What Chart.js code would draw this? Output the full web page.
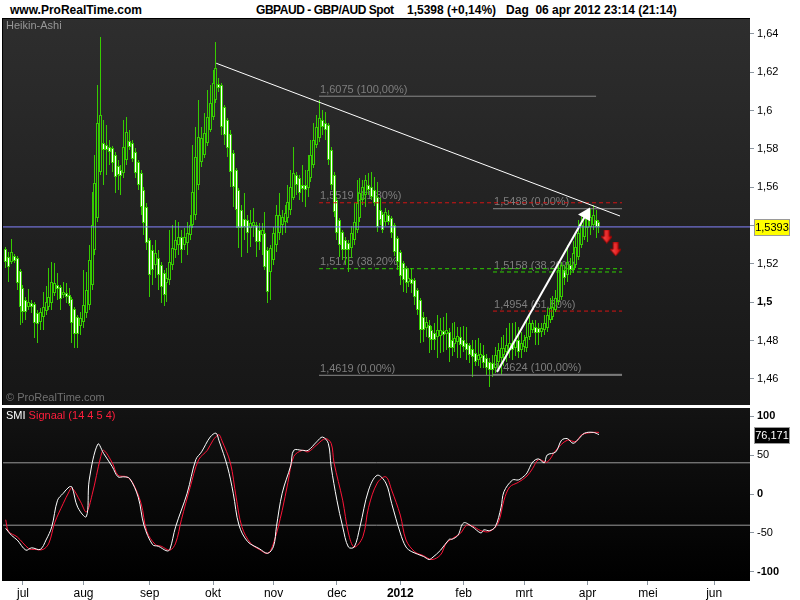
<!DOCTYPE html>
<html>
<head>
<meta charset="utf-8">
<script src="https://cdn.jsdelivr.net/npm/chart.js@4.4.1/dist/chart.umd.min.js"></script>
<style>
html, body { margin: 0; padding: 0; background: #fff; width: 800px; height: 600px; overflow: hidden; }
#hdr span { position: absolute; top: 3px; line-height: 14px; font: bold 12px 'Liberation Sans', Arial, sans-serif; color: #000; white-space: pre; }
#priceWrap { position: absolute; left: 0; top: 18px; width: 800px; height: 387px; }
#smiWrap { position: absolute; left: 0; top: 408px; width: 800px; height: 192px; }
</style>
</head>
<body>
<div id="hdr">
  <span style="left:10px">www.ProRealTime.com</span>
  <span style="left:256px; letter-spacing:-0.45px">GBPAUD - GBP/AUD Spot</span>
  <span style="left:407px">1,5398 (+0,14%)   Dag  06 apr 2012 23:14 (21:14)</span>
</div>
<div id="priceWrap"><canvas id="priceChart" width="800" height="387"></canvas></div>
<div id="smiWrap"><canvas id="smiChart" width="800" height="192"></canvas></div>

<script>
// Heikin-Ashi koersen GBPAUD, dagbalken (index 0 = 1 jul 2011)
const firstBar = -6;

const haOpen = [
    1.5278, 1.5236, 1.5211, 1.5242, 1.5231, 1.5163, 1.5074, 1.5012, 1.4975, 1.4996,
    1.4991, 1.4944, 1.4897, 1.4923, 1.4955, 1.4975, 1.4996, 1.5048, 1.5090, 1.5080,
    1.5038, 1.5048, 1.5038, 1.5017, 1.4965, 1.4923, 1.4876, 1.4897, 1.4944, 1.4986,
    1.5090, 1.5273, 1.5439, 1.5680, 1.5831, 1.5821, 1.5810, 1.5805, 1.5768, 1.5711,
    1.5690, 1.5674, 1.5742, 1.5842, 1.5831, 1.5784, 1.5732, 1.5674, 1.5586, 1.5497,
    1.5325, 1.5273, 1.5195, 1.5231, 1.5195, 1.5152, 1.5100, 1.5116, 1.5195, 1.5273,
    1.5299, 1.5340, 1.5299, 1.5309, 1.5351, 1.5403, 1.5455, 1.5612, 1.5732, 1.5768,
    1.5831, 1.5899, 1.5966, 1.6055, 1.6139, 1.6134, 1.6018, 1.5951, 1.5878, 1.5779,
    1.5690, 1.5586, 1.5481, 1.5434, 1.5429, 1.5387, 1.5398, 1.5403, 1.5377, 1.5351,
    1.5361, 1.5273, 1.5158, 1.5221, 1.5299, 1.5361, 1.5403, 1.5419, 1.5439, 1.5481,
    1.5544, 1.5664, 1.5648, 1.5612, 1.5612, 1.5596, 1.5648, 1.5716, 1.5821, 1.5857,
    1.5951, 1.5935, 1.5925, 1.5794, 1.5664, 1.5534, 1.5429, 1.5366, 1.5325, 1.5309,
    1.5283, 1.5325, 1.5377, 1.5439, 1.5534, 1.5560, 1.5612, 1.5601, 1.5586, 1.5549,
    1.5481, 1.5460, 1.5419, 1.5455, 1.5439, 1.5403, 1.5335, 1.5263, 1.5205, 1.5179,
    1.5106, 1.5121, 1.5116, 1.5064, 1.5012, 1.4923, 1.4865, 1.4881, 1.4855, 1.4839,
    1.4818, 1.4823, 1.4850, 1.4834, 1.4844, 1.4803, 1.4782, 1.4792, 1.4818, 1.4803,
    1.4787, 1.4777, 1.4756, 1.4735, 1.4699, 1.4709, 1.4725, 1.4709, 1.4688, 1.4683,
    1.4657, 1.4688, 1.4709, 1.4725, 1.4740, 1.4751, 1.4787, 1.4761, 1.4803, 1.4751,
    1.4766, 1.4761, 1.4818, 1.4855, 1.4871, 1.4865, 1.4844, 1.4855, 1.4865, 1.4907,
    1.4923, 1.4960, 1.5002, 1.5027, 1.5168, 1.5142, 1.5195, 1.5168, 1.5195, 1.5236,
    1.5299, 1.5340, 1.5387, 1.5392, 1.5403, 1.5429, 1.5419
];
const haClose = [
    1.5211, 1.5184, 1.5263, 1.5216, 1.5100, 1.4975, 1.4950, 1.4950, 1.5002, 1.4975,
    1.4891, 1.4886, 1.4950, 1.4975, 1.5002, 1.5027, 1.5106, 1.5100, 1.5069, 1.5017,
    1.5054, 1.5027, 1.4991, 1.4891, 1.4834, 1.4834, 1.4918, 1.4986, 1.5064, 1.5221,
    1.5403, 1.5622, 1.5935, 1.5977, 1.5794, 1.5794, 1.5784, 1.5726, 1.5653, 1.5664,
    1.5659, 1.5810, 1.5888, 1.5810, 1.5747, 1.5674, 1.5612, 1.5497, 1.5413, 1.5309,
    1.5142, 1.5168, 1.5257, 1.5142, 1.5080, 1.5038, 1.5126, 1.5211, 1.5283, 1.5325,
    1.5340, 1.5273, 1.5340, 1.5361, 1.5403, 1.5576, 1.5758, 1.5862, 1.5857, 1.5883,
    1.5966, 1.6039, 1.6144, 1.6222, 1.6118, 1.5914, 1.5873, 1.5805, 1.5680, 1.5601,
    1.5481, 1.5387, 1.5387, 1.5392, 1.5361, 1.5413, 1.5419, 1.5314, 1.5314, 1.5377,
    1.5184, 1.5054, 1.5283, 1.5361, 1.5455, 1.5455, 1.5445, 1.5466, 1.5523, 1.5601,
    1.5674, 1.5612, 1.5570, 1.5591, 1.5586, 1.5690, 1.5768, 1.5847, 1.5914, 1.5961,
    1.5914, 1.5899, 1.5742, 1.5612, 1.5471, 1.5361, 1.5299, 1.5273, 1.5273, 1.5273,
    1.5361, 1.5419, 1.5518, 1.5570, 1.5601, 1.5638, 1.5586, 1.5549, 1.5518, 1.5392,
    1.5429, 1.5377, 1.5471, 1.5419, 1.5361, 1.5263, 1.5211, 1.5137, 1.5116, 1.5100,
    1.5126, 1.5095, 1.5027, 1.4960, 1.4855, 1.4855, 1.4897, 1.4813, 1.4803, 1.4803,
    1.4855, 1.4855, 1.4829, 1.4855, 1.4761, 1.4761, 1.4813, 1.4823, 1.4777, 1.4766,
    1.4751, 1.4725, 1.4714, 1.4688, 1.4725, 1.4730, 1.4683, 1.4657, 1.4647, 1.4647,
    1.4725, 1.4751, 1.4761, 1.4761, 1.4777, 1.4787, 1.4751, 1.4803, 1.4740, 1.4787,
    1.4803, 1.4818, 1.4891, 1.4891, 1.4839, 1.4839, 1.4865, 1.4891, 1.4934, 1.4970,
    1.4975, 1.5022, 1.5168, 1.5195, 1.5126, 1.5211, 1.5168, 1.5257, 1.5288, 1.5361,
    1.5403, 1.5445, 1.5439, 1.5445, 1.5455, 1.5392, 1.5393
];
const haHigh = [
    1.5288, 1.5263, 1.5330, 1.5252, 1.5242, 1.5174, 1.5090, 1.5027, 1.5069, 1.5012,
    1.5002, 1.4960, 1.4970, 1.5054, 1.5085, 1.5179, 1.5211, 1.5205, 1.5152, 1.5090,
    1.5106, 1.5100, 1.5074, 1.5027, 1.4975, 1.4934, 1.4950, 1.5168, 1.5158, 1.5299,
    1.5576, 1.5768, 1.6134, 1.6384, 1.5951, 1.5925, 1.5847, 1.5815, 1.5784, 1.5742,
    1.5716, 1.5951, 1.5966, 1.5899, 1.5847, 1.5805, 1.5742, 1.5690, 1.5601, 1.5518,
    1.5335, 1.5299, 1.5325, 1.5273, 1.5211, 1.5168, 1.5179, 1.5377, 1.5403, 1.5429,
    1.5419, 1.5377, 1.5387, 1.5419, 1.5455, 1.5821, 1.5914, 1.6055, 1.5914, 1.5987,
    1.6107, 1.6134, 1.6212, 1.6358, 1.6170, 1.6144, 1.6029, 1.5961, 1.5899, 1.5794,
    1.5701, 1.5596, 1.5507, 1.5570, 1.5455, 1.5481, 1.5492, 1.5419, 1.5413, 1.5413,
    1.5471, 1.5288, 1.5299, 1.5392, 1.5507, 1.5570, 1.5481, 1.5507, 1.5612, 1.5690,
    1.5810, 1.5680, 1.5664, 1.5716, 1.5690, 1.5768, 1.5847, 1.5935, 1.5977, 1.6055,
    1.6003, 1.5992, 1.5935, 1.5810, 1.5680, 1.5549, 1.5439, 1.5377, 1.5340, 1.5325,
    1.5398, 1.5518, 1.5638, 1.5648, 1.5638, 1.5664, 1.5674, 1.5680, 1.5653, 1.5627,
    1.5544, 1.5471, 1.5492, 1.5481, 1.5450, 1.5413, 1.5346, 1.5273, 1.5216, 1.5189,
    1.5179, 1.5179, 1.5126, 1.5074, 1.5022, 1.4950, 1.4923, 1.4907, 1.4876, 1.4891,
    1.4934, 1.4918, 1.4923, 1.4944, 1.4865, 1.4891, 1.4897, 1.4871, 1.4871, 1.4876,
    1.4871, 1.4787, 1.4803, 1.4803, 1.4813, 1.4787, 1.4777, 1.4730, 1.4709, 1.4725,
    1.4766, 1.4787, 1.4818, 1.4829, 1.4865, 1.4891, 1.4891, 1.4897, 1.4871, 1.4844,
    1.4829, 1.4907, 1.4934, 1.4907, 1.4907, 1.4891, 1.4891, 1.4934, 1.4970, 1.5022,
    1.5033, 1.5064, 1.5195, 1.5211, 1.5195, 1.5299, 1.5231, 1.5320, 1.5351, 1.5429,
    1.5466, 1.5471, 1.5481, 1.5492, 1.5507, 1.5481, 1.5429
];
const haLow = [
    1.5179, 1.5106, 1.5200, 1.5205, 1.5064, 1.4881, 1.4891, 1.4907, 1.4960, 1.4944,
    1.4813, 1.4787, 1.4855, 1.4855, 1.4934, 1.4960, 1.4960, 1.5033, 1.5012, 1.4960,
    1.5022, 1.4996, 1.4981, 1.4787, 1.4761, 1.4761, 1.4829, 1.4865, 1.4918, 1.4960,
    1.5064, 1.5247, 1.5419, 1.5664, 1.5612, 1.5664, 1.5716, 1.5680, 1.5570, 1.5586,
    1.5560, 1.5648, 1.5716, 1.5794, 1.5732, 1.5648, 1.5586, 1.5455, 1.5351, 1.5273,
    1.5027, 1.5090, 1.5126, 1.5064, 1.4996, 1.4981, 1.5002, 1.5090, 1.5168, 1.5231,
    1.5247, 1.5205, 1.5273, 1.5247, 1.5325, 1.5387, 1.5429, 1.5586, 1.5706, 1.5753,
    1.5815, 1.5888, 1.5951, 1.6039, 1.6097, 1.5873, 1.5821, 1.5758, 1.5601, 1.5497,
    1.5387, 1.5283, 1.5236, 1.5325, 1.5257, 1.5288, 1.5340, 1.5236, 1.5273, 1.5247,
    1.5168, 1.4996, 1.5012, 1.5195, 1.5263, 1.5325, 1.5351, 1.5361, 1.5413, 1.5455,
    1.5534, 1.5560, 1.5534, 1.5523, 1.5497, 1.5549, 1.5627, 1.5701, 1.5805, 1.5836,
    1.5873, 1.5847, 1.5716, 1.5586, 1.5445, 1.5325, 1.5236, 1.5221, 1.5195, 1.5158,
    1.5231, 1.5299, 1.5361, 1.5419, 1.5507, 1.5497, 1.5560, 1.5534, 1.5502, 1.5366,
    1.5403, 1.5361, 1.5398, 1.5403, 1.5335, 1.5242, 1.5168, 1.5090, 1.5054, 1.5048,
    1.5080, 1.5048, 1.4986, 1.4934, 1.4787, 1.4792, 1.4818, 1.4735, 1.4751, 1.4751,
    1.4709, 1.4735, 1.4740, 1.4751, 1.4688, 1.4720, 1.4740, 1.4709, 1.4709, 1.4740,
    1.4699, 1.4683, 1.4610, 1.4668, 1.4668, 1.4657, 1.4657, 1.4621, 1.4557, 1.4610,
    1.4631, 1.4657, 1.4621, 1.4668, 1.4688, 1.4709, 1.4699, 1.4720, 1.4709, 1.4709,
    1.4740, 1.4740, 1.4803, 1.4839, 1.4777, 1.4777, 1.4818, 1.4829, 1.4844, 1.4891,
    1.4907, 1.4950, 1.4986, 1.5012, 1.5090, 1.5106, 1.5142, 1.5152, 1.5179, 1.5221,
    1.5283, 1.5325, 1.5314, 1.5351, 1.5377, 1.5335, 1.5361
];

// SMI (wit) en signaal (rood)
const smiIdx = [-6, -4, -2, 1, 3, 6, 8, 10, 12, 14, 16, 17, 19, 22, 23, 26, 28, 31, 33, 35,
    37, 40, 42, 45, 47, 50, 51, 53, 57, 60, 62, 65, 67, 68, 71, 73, 75, 78, 82, 85,
    87, 88, 90, 93, 94, 97, 99, 102, 104, 106, 107, 109, 111, 113, 115, 117, 120, 123, 126, 128,
    131, 133, 135, 139, 141, 142, 145, 148, 149, 151, 153, 156, 159, 160, 162, 164, 166, 167, 170, 172,
    174, 175, 177, 179, 181, 182, 185, 187, 189, 191, 193, 195, 198, 200];
const smiVal = [-44, -53, -59, -72, -69, -71, -59, -42, -8, 1, 9, 9, -17, -29, 18, 64, 52, 35, 22, 22,
    20, -4, -40, -65, -67, -73, -71, -42, 1, 44, 54, 73, 78, 69, 35, 1, -40, -61, -70, -76,
    -67, -42, 1, 37, 56, 56, 56, 67, 73, 65, 35, -8, -42, -68, -68, -42, 5, 24, 14, -12,
    -50, -68, -74, -80, -84, -82, -72, -58, -58, -53, -37, -42, -50, -46, -47, -42, -17, 3, 18, 18,
    23, 27, 41, 45, 40, 50, 54, 69, 71, 65, 71, 78, 79, 76.171];
const sigIdx = [-6, -5, -2, 2, 4, 7, 9, 11, 14, 16, 17, 20, 22, 24, 27, 28, 31, 33, 36, 38,
    41, 43, 46, 48, 51, 53, 55, 58, 61, 64, 66, 68, 69, 72, 74, 76, 79, 82, 85, 87,
    90, 92, 94, 97, 99, 102, 105, 107, 108, 111, 113, 115, 118, 120, 123, 126, 128, 131, 133, 136,
    139, 142, 145, 147, 150, 152, 154, 156, 159, 162, 165, 167, 169, 172, 175, 177, 179, 182, 185, 189,
    192, 194, 198, 200];
const sigVal = [-33, -48, -55, -70, -71, -71, -63, -37, -12, 3, 8, -10, -23, -1, 48, 56, 40, 24, 22, 15,
    -12, -48, -65, -67, -72, -63, -33, 8, 44, 56, 69, 76, 69, 40, -4, -42, -63, -71, -76, -63,
    -21, 15, 48, 56, 54, 63, 71, 65, 40, -8, -50, -68, -55, -17, 14, 22, 5, -27, -59, -74,
    -79, -84, -78, -63, -55, -50, -40, -41, -47, -48, -37, -8, 9, 15, 23, 33, 44, 41, 56, 69,
    67, 76, 79, 79];
const smiLevels = [40, -40];

// assen
const monthIdx = [0, 21, 44, 66, 87, 109, 131, 153, 174, 196, 217, 240];
const monthLbl = ['jul', 'aug', 'sep', 'okt', 'nov', 'dec', '2012', 'feb', 'mrt', 'apr', 'mei', 'jun'];
const priceTicks = [1.46, 1.48, 1.5, 1.52, 1.54, 1.56, 1.58, 1.6, 1.62, 1.64];
const smiTicks = [100, 50, 0, -50, -100];
const lastPrice = 1.5393;
const lastSmi = 76.171;

// tekenwerk: trendlijn, pijl, fibonacci
const trendX = [67.1, 207.3];
const trendY = [1.6247, 1.5450];
const arrowX = [164.6, 195.5];
const arrowY = [1.4636, 1.5458];
const downX = [202.7, 205.8];
const downY = [1.5343, 1.5276];

const fibAStart = 102.8;
const fibAEnd = [199, 208, 208, 208];
const fibAPrice = [1.6075, 1.5519, 1.5175, 1.4619];
const fibALabel = ['1,6075 (100,00%)', '1,5519 (61,80%)', '1,5175 (38,20%)', '1,4619 (0,00%)'];
const fibBStart = 163.2;
const fibBEnd = [208, 208, 208, 208];
const fibBPrice = [1.5488, 1.5158, 1.4954, 1.4624];
const fibBLabel = ['1,5488 (0,00%)', '1,5158 (38,20%)', '1,4954 (61,80%)', '1,4624 (100,00%)'];

const xMin = -6.94, xMax = 252.43;
const family = "'Liberation Sans', Arial, sans-serif";
const green = '#36cc00';
const GRAY = '#8a8a8a', RED = '#d41414', GRN = '#2fd000';

function fmt(v) {
    return String(+(+v).toFixed(4)).replace('.', ',');
}

function lineSet(xs, ys, color, width, dash) {
    return {
        type: 'line',
        data: xs.map((x, k) => ({ x: x, y: ys[k] })),
        borderColor: color,
        borderWidth: width,
        borderDash: dash || [],
        pointRadius: 0,
        fill: false,
        tension: 0,
        order: 0
    };
}

const bgPlugin = {
    id: 'bg',
    beforeDraw(chart, args, opts) {
        const { ctx, chartArea: a } = chart;
        ctx.save();
        ctx.fillStyle = '#fff';
        ctx.fillRect(0, 0, chart.width, chart.height);
        const g = ctx.createLinearGradient(0, a.top, 0, a.bottom);
        g.addColorStop(0, opts.top);
        g.addColorStop(1, opts.bottom);
        ctx.fillStyle = g;
        ctx.fillRect(a.left, a.top, a.right - a.left, a.bottom - a.top);
        ctx.fillStyle = '#000';
        ctx.fillRect(a.left - 1, a.top, 1, a.bottom - a.top);
        if (opts.topLine) ctx.fillRect(a.left - 1, a.top, a.right - a.left + 1, 1);
        ctx.restore();
    }
};

// balken op hele pixels zetten zodat de kaarsen scherp blijven
const snapBars = {
    id: 'snapBars',
    afterDatasetsUpdate(chart) {
        chart.data.datasets.forEach((ds, i) => {
            const meta = chart.getDatasetMeta(i);
            if (meta.type !== 'bar') return;
            meta.data.forEach(el => {
                el.x = Math.floor(el.x) + 0.5;
                el.y = Math.round(el.y);
                el.base = Math.round(el.base);
            });
        });
    }
};

function valueBox(ctx, yPix, text, fill, stroke, color) {
    const yc = Math.round(yPix);
    ctx.save();
    ctx.fillStyle = fill;
    ctx.fillRect(754, yc - 8, 35, 17);
    ctx.strokeStyle = stroke;
    ctx.lineWidth = 1;
    ctx.strokeRect(754.5, yc - 7.5, 35, 16);
    ctx.fillStyle = color;
    ctx.font = '11px ' + family;
    ctx.textBaseline = 'middle';
    ctx.textAlign = 'center';
    ctx.fillText(text, 772, yc + 1);
    ctx.restore();
}

const priceDeco = {
    id: 'priceDeco',
    beforeDatasetsDraw(chart) {
        const { ctx, scales: { x, y } } = chart;
        ctx.save();
        ctx.font = '11px ' + family;
        ctx.textBaseline = 'bottom';
        ctx.fillStyle = '#7e7e7e';
        fibAPrice.forEach((p, k) => ctx.fillText(fibALabel[k], x.getPixelForValue(fibAStart) + 1, y.getPixelForValue(p) - 1));
        fibBPrice.forEach((p, k) => ctx.fillText(fibBLabel[k], x.getPixelForValue(fibBStart) + 1, y.getPixelForValue(p) - 1));
        ctx.textBaseline = 'middle';
        ctx.fillStyle = '#979797';
        ctx.fillText('Heikin-Ashi', 6, 8);
        ctx.fillStyle = '#707070';
        ctx.fillText('\u00a9 ProRealTime.com', 6, 380);
        ctx.restore();
    },
    afterDraw(chart) {
        const y = chart.scales.y;
        valueBox(chart.ctx, y.getPixelForValue(lastPrice), fmt(lastPrice), '#ffff00', '#9a9a9a', '#000');
    }
};

const smiDeco = {
    id: 'smiDeco',
    afterDraw(chart) {
        const { ctx, scales: { y } } = chart;
        ctx.save();
        ctx.font = '11px ' + family;
        ctx.textBaseline = 'middle';
        ctx.fillStyle = '#ffffff';
        ctx.fillText('SMI', 6, 8);
        const w = ctx.measureText('SMI ').width;
        ctx.fillStyle = '#ff1e3c';
        ctx.fillText('Signaal (14 4 5 4)', 6 + w, 8);
        ctx.restore();
        valueBox(ctx, y.getPixelForValue(lastSmi), fmt(lastSmi), '#000', '#9a9a9a', '#fff');
    }
};

// Kaarsen
const bodyData = haOpen.map((o, k) => ({ x: firstBar + k, y: [o, haClose[k]] }));
const upWick = haOpen.map((o, k) => ({ x: firstBar + k, y: [Math.max(o, haClose[k]), haHigh[k]] }));
const loWick = haOpen.map((o, k) => ({ x: firstBar + k, y: [haLow[k], Math.min(o, haClose[k])] }));

const fibSets = [];
const fibAColor = [GRAY, RED, GRN, GRAY], fibADash = [[], [4, 3], [4, 3], []];
const fibBColor = [GRAY, GRN, RED, GRAY], fibBDash = [[], [4, 3], [4, 3], []];
fibAPrice.forEach((p, k) => fibSets.push(lineSet([fibAStart, fibAEnd[k]], [p, p], fibAColor[k], 1, fibADash[k])));
fibBPrice.forEach((p, k) => fibSets.push(lineSet([fibBStart, fibBEnd[k]], [p, p], fibBColor[k], 1, fibBDash[k])));

function makeDownArrow() {
    const c = document.createElement('canvas');
    c.width = 11; c.height = 14;
    const g = c.getContext('2d');
    const grad = g.createLinearGradient(0, 0, 11, 0);
    grad.addColorStop(0, '#ff5a5a');
    grad.addColorStop(1, '#d00000');
    g.fillStyle = grad;
    g.beginPath();
    g.moveTo(3, 0); g.lineTo(8, 0); g.lineTo(8, 7); g.lineTo(11, 7);
    g.lineTo(5.5, 13.5); g.lineTo(0, 7); g.lineTo(3, 7);
    g.closePath();
    g.fill();
    g.strokeStyle = '#a00000';
    g.lineWidth = 1;
    g.stroke();
    return c;
}

const arrowSet = lineSet(arrowX, arrowY, '#ffffff', 2);
arrowSet.pointRadius = [0, 6];
arrowSet.pointStyle = 'triangle';
arrowSet.pointBackgroundColor = '#ffffff';
arrowSet.pointBorderColor = '#ffffff';
arrowSet.pointRotation = (c) => {
    const { x, y } = c.chart.scales;
    const dx = x.getPixelForValue(arrowX[1]) - x.getPixelForValue(arrowX[0]);
    const dy = y.getPixelForValue(arrowY[0]) - y.getPixelForValue(arrowY[1]);
    return Math.atan2(dx, dy) * 180 / Math.PI;
};

const downSet = {
    type: 'line',
    data: downX.map((x, k) => ({ x: x, y: downY[k] })),
    showLine: false,
    pointStyle: makeDownArrow(),
    pointRadius: 6,
    order: 0
};

new Chart(document.getElementById('priceChart'), {
    type: 'bar',
    data: {
        datasets: [
            lineSet([xMin, xMax], [lastPrice, lastPrice], '#8484ff', 1),
            lineSet(trendX, trendY, '#ffffff', 1),
            arrowSet,
            downSet,
            ...fibSets,
            {
                label: 'body',
                data: bodyData,
                grouped: false,
                barThickness: 3,
                borderWidth: 1,
                borderSkipped: false,
                inflateAmount: 0,
                borderColor: green,
                backgroundColor: (c) => {
                    const k = c.dataIndex;
                    return haClose[k] < haOpen[k] ? '#ffffff' : 'rgba(0,0,0,0)';
                },
                order: 1
            },
            {
                label: 'upWick',
                data: upWick,
                grouped: false,
                barThickness: 1,
                borderWidth: 0,
                inflateAmount: 0,
                backgroundColor: green,
                order: 2
            },
            {
                label: 'loWick',
                data: loWick,
                grouped: false,
                barThickness: 1,
                borderWidth: 0,
                inflateAmount: 0,
                backgroundColor: green,
                order: 2
            }
        ]
    },
    options: {
        responsive: false,
        animation: false,
        devicePixelRatio: 1,
        layout: { autoPadding: false, padding: { left: 3, right: 0, top: 0, bottom: 0 } },
        plugins: {
            legend: { display: false },
            tooltip: { enabled: false },
            bg: { top: '#2e2e2e', bottom: '#161616', topLine: true }
        },
        scales: {
            x: { type: 'linear', display: false, min: xMin, max: xMax, offset: false, grid: { offset: false } },
            y: {
                type: 'linear',
                position: 'right',
                min: 1.4464,
                max: 1.6483,
                afterFit: (s) => { s.width = 50; s.paddingTop = 0; s.paddingBottom = 0; },
                afterBuildTicks: (s) => { s.ticks = priceTicks.map(v => ({ value: v })); },
                grid: { drawOnChartArea: false, drawTicks: true, tickLength: 4, color: '#8c96a0' },
                border: { display: false },
                ticks: {
                    color: '#000',
                    padding: 3,
                    font: (c) => ({ family: family, size: 11, weight: c.tick && c.tick.value === 1.5 ? 'bold' : 'normal' }),
                    callback: (v) => fmt(v)
                }
            }
        }
    },
    plugins: [bgPlugin, snapBars, priceDeco]
});

const levelSets = smiLevels.map(v => lineSet([xMin, xMax], [v, v], '#9a9a9a', 1));

new Chart(document.getElementById('smiChart'), {
    type: 'line',
    data: {
        datasets: [
            {
                label: 'SMI',
                data: smiIdx.map((x, k) => ({ x: x, y: smiVal[k] })),
                borderColor: '#ffffff',
                borderWidth: 1,
                pointRadius: 0,
                tension: 0.35
            },
            {
                label: 'Signaal',
                data: sigIdx.map((x, k) => ({ x: x, y: sigVal[k] })),
                borderColor: '#ff1438',
                borderWidth: 1,
                pointRadius: 0,
                tension: 0.35
            },
            ...levelSets
        ]
    },
    options: {
        responsive: false,
        animation: false,
        devicePixelRatio: 1,
        layout: { autoPadding: false, padding: { left: 3, right: 0, top: 0, bottom: 0 } },
        plugins: {
            legend: { display: false },
            tooltip: { enabled: false },
            bg: { top: '#131313', bottom: '#000000', topLine: false }
        },
        scales: {
            x: {
                type: 'linear',
                min: xMin,
                max: xMax,
                offset: false,
                afterFit: (s) => { s.height = 19; s.paddingLeft = 0; s.paddingRight = 0; },
                afterBuildTicks: (s) => { s.ticks = monthIdx.map(v => ({ value: v })); },
                grid: { drawOnChartArea: false, drawTicks: true, tickLength: 4, color: '#8c96a0' },
                border: { display: false },
                ticks: {
                    autoSkip: false,
                    maxRotation: 0,
                    padding: 1,
                    color: '#000',
                    font: (c) => ({ family: family, size: 12, weight: c.tick && c.tick.value === 131 ? 'bold' : 'normal' }),
                    callback: (v) => monthLbl[monthIdx.indexOf(v)]
                }
            },
            y: {
                type: 'linear',
                position: 'right',
                min: -111.54,
                max: 110.26,
                afterFit: (s) => { s.width = 50; s.paddingTop = 0; s.paddingBottom = 0; },
                afterBuildTicks: (s) => { s.ticks = smiTicks.map(v => ({ value: v })); },
                grid: { drawOnChartArea: false, drawTicks: true, tickLength: 4, color: '#8c96a0' },
                border: { display: false },
                ticks: {
                    color: '#000',
                    padding: 3,
                    font: (c) => ({ family: family, size: 11, weight: c.tick && c.tick.value % 100 === 0 ? 'bold' : 'normal' }),
                    callback: (v) => String(v)
                }
            }
        }
    },
    plugins: [bgPlugin, smiDeco]
});
</script>
</body>
</html>
